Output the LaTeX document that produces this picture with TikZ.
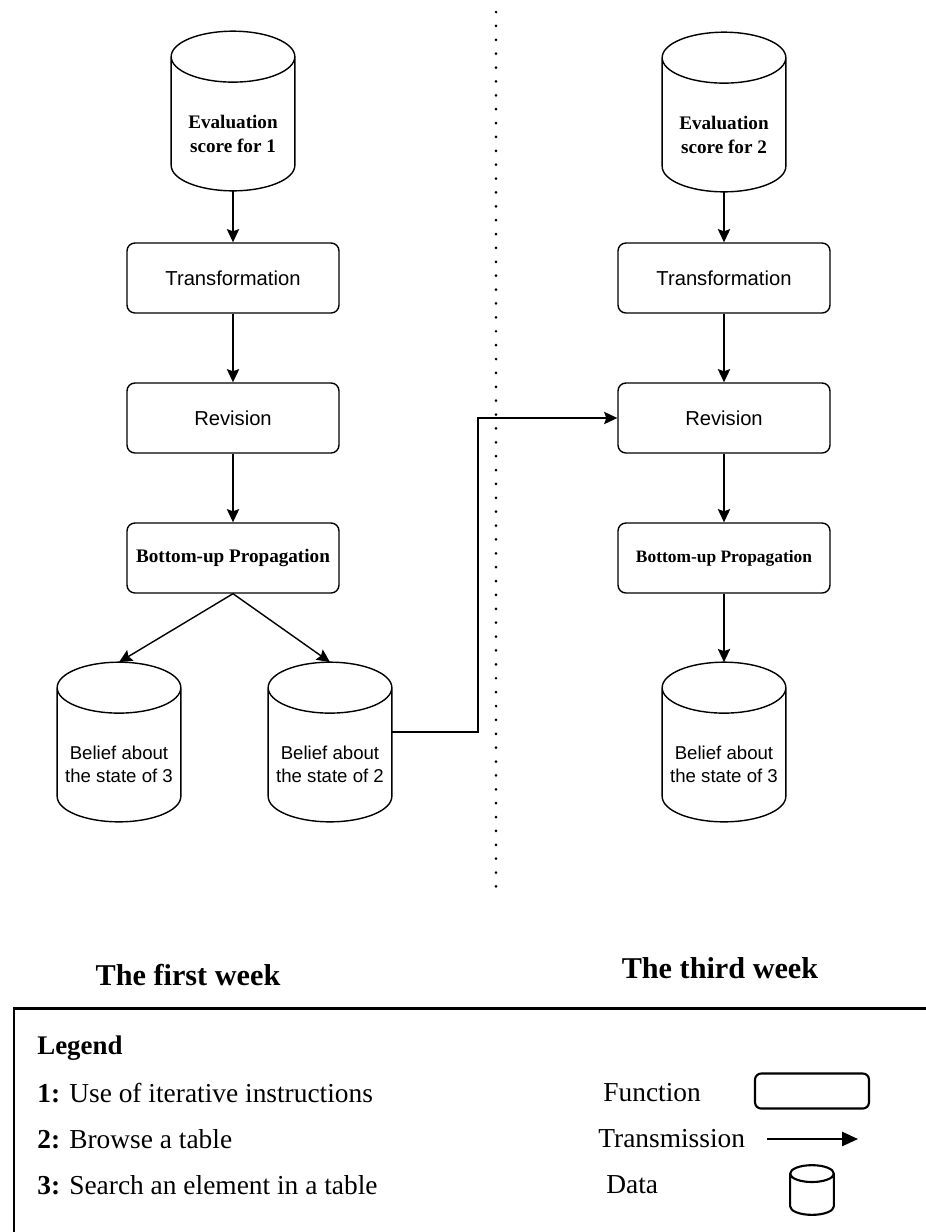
\documentclass[tikz,border=0pt]{standalone}
\usepackage{fontspec}
\setmainfont{Liberation Serif}
\setsansfont{Liberation Sans}
\usetikzlibrary{arrows.meta,calc}

%% text of a data store, lowered below the top face
\newcommand{\dbtext}[1]{\raisebox{-14pt}[\height][\depth]{\begin{tabular}{@{}c@{}}#1\end{tabular}}}
%% outline of a data store round a node: #1 node, #2 radius of the faces
\newcommand{\drawDb}[2]{%
  \draw[dbLine] let \p1=(#1.north west), \p2=(#1.south east), \n1={(\x2-\x1)/2} in
    (\x1,\y1-#2) -- (\x1,\y2+#2)
    arc[start angle=180,end angle=360,x radius=\n1,y radius=#2]
    -- (\x2,\y1-#2)
    arc[start angle=0,end angle=180,x radius=\n1,y radius=#2]
    arc[start angle=180,end angle=360,x radius=\n1,y radius=#2];}

\begin{document}
\begin{tikzpicture}[x=0.02cm,y=-0.02cm,%%
  funcBox/.style={draw,line width=0.8pt,rounded corners=4.5pt,minimum width=4.24cm,minimum height=1.4cm,inner sep=0pt,align=center},%%
  dataStore/.style={minimum width=2.46cm,minimum height=3.18cm,inner sep=0pt},%%
  dbLine/.style={line width=0.8pt},%%
  arrowStyle/.style={-{Stealth[length=7.5pt,width=7pt,inset=1.2pt]},line width=0.8pt},%%
  sansText/.style={font=\fontsize{11.5}{13.8}\selectfont\sffamily},%%
  beliefText/.style={font=\fontsize{10.6}{12.9}\selectfont\sffamily},%%
  boldText/.style={font=\fontsize{10.9}{13.6}\selectfont\bfseries},%%
  weekTitle/.style={font=\fontsize{17.2}{20}\selectfont\bfseries},%%
  legendText/.style={font=\fontsize{15.6}{18}\selectfont,anchor=west,inner sep=0pt}
]
\useasboundingbox (0,0) rectangle (926,1232);
%%
%% The first week.
\node[dataStore,boldText] (eval1) at (233,111) {\dbtext{Evaluation\\score for 1}};
\node[funcBox,sansText] (trans1) at (233,278) {Transformation};
\node[funcBox,sansText] (rev1) at (233,418) {Revision};
\node[funcBox,boldText] (prop1) at (233,558) {Bottom-up Propagation};
\node[dataStore,beliefText] (belief13) at (119,742) {\dbtext{Belief about\\the state of 3}};
\node[dataStore,beliefText] (belief12) at (330,742) {\dbtext{Belief about\\the state of 2}};
\drawDb{eval1}{14.5pt}
\drawDb{belief13}{14.5pt}
\drawDb{belief12}{14.5pt}
\draw[arrowStyle] (eval1.south) -- (trans1.north);
\draw[arrowStyle] (trans1.south) -- (rev1.north);
\draw[arrowStyle] (rev1.south) -- (prop1.north);
\draw[arrowStyle] (prop1.south) -- (belief13.north);
\draw[arrowStyle] (prop1.south) -- (belief12.north);
%%
%% The third week.
\node[dataStore,boldText] (eval2) at (724,112) {\dbtext{Evaluation\\score for 2}};
\node[funcBox,sansText] (trans2) at (724,278) {Transformation};
\node[funcBox,sansText] (rev2) at (724,418) {Revision};
\node[funcBox,boldText,font=\fontsize{9.9}{12}\selectfont\bfseries] (prop2) at (724,558) {Bottom-up Propagation};
\node[dataStore,beliefText] (belief23) at (724,742) {\dbtext{Belief about\\the state of 3}};
\drawDb{eval2}{14.5pt}
\drawDb{belief23}{14.5pt}
\draw[arrowStyle] (eval2.south) -- (trans2.north);
\draw[arrowStyle] (trans2.south) -- (rev2.north);
\draw[arrowStyle] (rev2.south) -- (prop2.north);
\draw[arrowStyle] (prop2.south) -- (belief23.north);
%%
%% Belief about 2 is passed on to the revision of the third week.
\coordinate (bend) at (478,0);
\draw[arrowStyle] ([yshift=0.2cm]belief12.east) -| (bend |- rev2.west) -- (rev2.west);
%%
%% Separator and titles.
\draw[line width=1.7pt,line cap=round,dash pattern=on 0pt off 7.9pt] (496,12) -- (496,895);
\node[weekTitle] (week1) at (188,975) {The first week};
\node[weekTitle] (week3) at (720,968) {The third week};
%%
%% Legend.
\draw[line width=1.7pt] (14,1232) -- (14,1008) -- (926,1008);
\node[legendText,font=\fontsize{15.3}{18}\selectfont\bfseries] (legend) at (37,1048) {Legend};
\node[legendText] (item1) at (37,1093) {\textbf{1:} Use of iterative instructions};
\node[legendText] (item2) at (37,1139) {\textbf{2:} Browse a table};
\node[legendText] (item3) at (37,1185) {\textbf{3:} Search an element in a table};
\node[legendText] (keyFunc) at (603,1093) {Function};
\node[legendText] (keyTrans) at (598,1139) {Transmission};
\node[legendText] (keyData) at (606,1185) {Data};
\begin{scope}[dbLine/.style={line width=1.2pt}]
\node[funcBox,line width=1.2pt,rounded corners=3.5pt,minimum width=2.28cm,minimum height=0.7cm] (symFunc) at (812,1091) {};
\coordinate (symFrom) at (767,1139);
\coordinate (symTo) at (858,1139);
\draw[-{Triangle[length=9pt,width=8pt]},line width=1.2pt] (symFrom) -- (symTo);
\node[dataStore,minimum width=0.86cm,minimum height=0.98cm] (symData) at (812,1190) {};
\drawDb{symData}{4.8pt}
\end{scope}
\end{tikzpicture}
\end{document}
